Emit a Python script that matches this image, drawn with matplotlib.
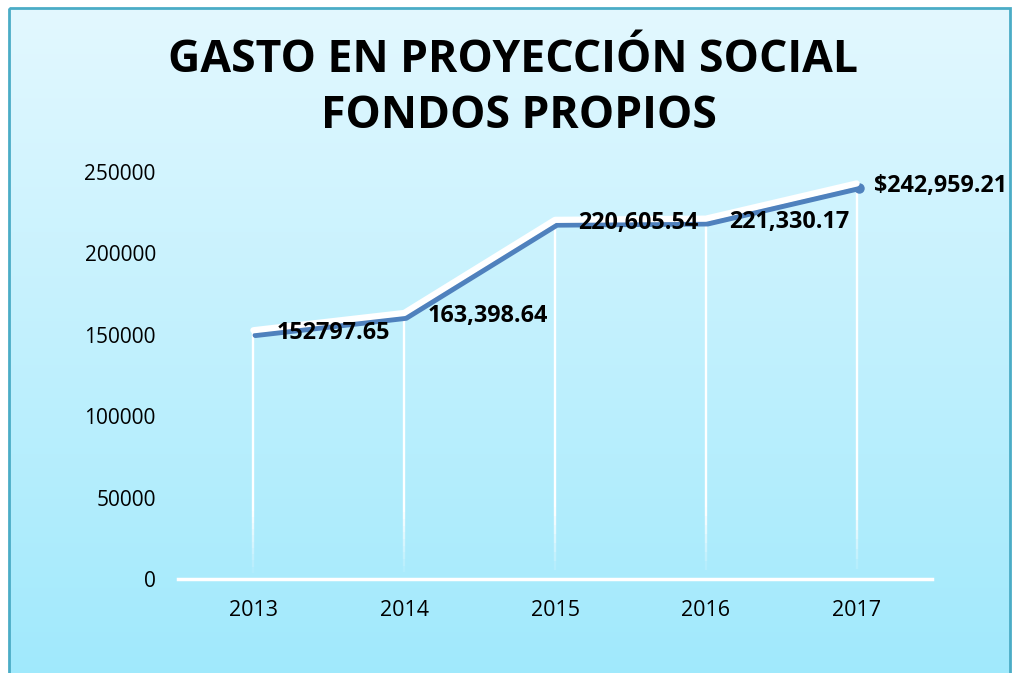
import numpy as np
import matplotlib
matplotlib.use("Agg")
import matplotlib.pyplot as plt
from matplotlib.transforms import offset_copy
from matplotlib.collections import LineCollection
from matplotlib.patches import Rectangle

years = ["2013", "2014", "2015", "2016", "2017"]
values = [152797.65, 163398.64, 220605.54, 221330.17, 242959.21]
labels = ["152797.65", "163,398.64", "220,605.54", "221,330.17", "$242,959.21"]
yticks = [0, 50000, 100000, 150000, 200000, 250000]

W, H = 1019, 673
fig = plt.figure(figsize=(W / 100, H / 100), dpi=100)
fig.patch.set_facecolor("white")

# background with gradient and border
bg = fig.add_axes([0, 0, 1, 1], zorder=-5)
bg.set_xlim(0, W)
bg.set_ylim(H, 0)
bg.axis("off")
top = np.array([0xe3, 0xf8, 0xff]) / 255
bot = np.array([0xa0, 0xe9, 0xfc]) / 255
t = np.linspace(0, 1, 256)[:, None]
grad = top[None, :] * (1 - t) + bot[None, :] * t
grad = grad[:, None, :]
bg.imshow(grad, extent=(9, 1010, H + 5, 8), aspect="auto", interpolation="bilinear")
bg.add_patch(Rectangle((9, 8), 1001, H, fill=False, edgecolor="#4bacc6", lw=2))

ax = fig.add_axes([178 / W, 1 - 579 / H, (932 - 178) / W, (579 - 172) / H])
ax.patch.set_alpha(0)
x = np.arange(len(years))
ax.set_xlim(-0.5, len(years) - 0.5)
ax.set_ylim(0, 250000)

# drop lines (white fading towards bottom)
for xi, v in zip(x, values):
    n = 40
    ys = np.linspace(0, v, n + 1)
    segs = [[(xi, ys[i]), (xi, ys[i + 1])] for i in range(n)]
    alphas = np.clip(ys[:-1] / 40000, 0, 1)
    cols = [(1, 1, 1, a) for a in alphas]
    ax.add_collection(LineCollection(segs, colors=cols, linewidths=1.7, zorder=2))

shadow = offset_copy(ax.transData, fig=fig, x=2, y=-5, units="dots")
ax.plot(x, values, color="#4f81bd", lw=4.0, solid_capstyle="round",
        solid_joinstyle="round", transform=shadow, zorder=3,
        marker="o", markevery=[4], ms=6.5, mec="#4f81bd")
ax.plot(x, values, color="white", lw=4.5, solid_capstyle="round",
        solid_joinstyle="round", zorder=4)

for xi, v, lab in zip(x, values, labels):
    ax.annotate(lab, (xi, v), xytext=(17 if xi == 4 else 23, -3),
                textcoords="offset pixels", ha="left", va="center",
                fontsize=16.8, fontweight="bold", family="Open Sans",
                color="black", zorder=6)

ax.set_xticks(x)
ax.set_xticklabels(years, fontsize=15.5, family="Open Sans")
ax.set_yticks(yticks)
ax.set_yticklabels([str(v) for v in yticks], fontsize=15, family="Open Sans")
ax.tick_params(axis="both", length=0)
ax.tick_params(axis="x", pad=15)
ax.tick_params(axis="y", pad=16)
for s in ["left", "right", "top"]:
    ax.spines[s].set_visible(False)
ax.spines["bottom"].set_color("white")
ax.spines["bottom"].set_linewidth(2.5)

fig.text(513 / W, 1 - 60 / H, "GASTO EN PROYECCIÓN SOCIAL", ha="center", va="center",
         fontsize=32, fontweight="bold", family="Open Sans", color="black")
fig.text(519 / W, 1 - 116 / H, "FONDOS PROPIOS", ha="center", va="center",
         fontsize=32, fontweight="bold", family="Open Sans", color="black")

fig.savefig("out.png", dpi=100)
